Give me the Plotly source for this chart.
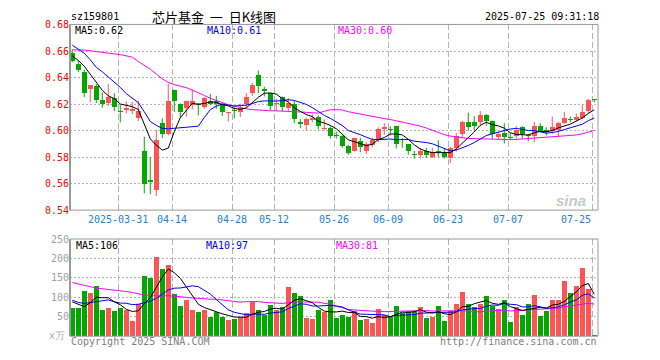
import plotly.graph_objects as go
import numpy as np
import pandas as pd

# ---------------- data ----------------
opens = [0.6583, 0.6504, 0.6441, 0.6313, 0.6335, 0.6233, 0.6208, 0.6245, 0.6150, 0.6152,
         0.6145, 0.6091, 0.5843, 0.5630, 0.5552, 0.6056, 0.5975, 0.6306, 0.6203, 0.6172,
         0.6189, 0.6203, 0.6176, 0.6220, 0.6225, 0.6203, 0.6130, 0.6152, 0.6140, 0.6203,
         0.6282, 0.6421, 0.6311, 0.6282, 0.6203, 0.6252, 0.6172, 0.6203, 0.6064, 0.6042,
         0.6079, 0.6105, 0.6010, 0.6017, 0.5966, 0.5956, 0.5883, 0.5846, 0.5922, 0.5846,
         0.5890, 0.5932, 0.6012, 0.6010, 0.6032, 0.5902, 0.5895, 0.5824, 0.5817, 0.5848,
         0.5804, 0.5846, 0.5829, 0.5792, 0.5870, 0.5975, 0.6066, 0.6066, 0.6061, 0.6115,
         0.6074, 0.5951, 0.5983, 0.5949, 0.5958, 0.6025, 0.5963, 0.5956, 0.6032, 0.6007,
         0.6000, 0.6007, 0.6056, 0.6086, 0.6081, 0.6091, 0.6147, 0.6233]
highs = [0.6612, 0.6527, 0.6458, 0.6343, 0.6350, 0.6287, 0.6350, 0.6282, 0.6196, 0.6220,
         0.6218, 0.6225, 0.5953, 0.5800, 0.6005, 0.6093, 0.6355, 0.6310, 0.6205, 0.6225,
         0.6311, 0.6208, 0.6252, 0.6277, 0.6262, 0.6205, 0.6140, 0.6184, 0.6203, 0.6282,
         0.6360, 0.6453, 0.6331, 0.6284, 0.6238, 0.6257, 0.6245, 0.6225, 0.6086, 0.6098,
         0.6123, 0.6115, 0.6086, 0.6032, 0.5993, 0.5963, 0.5890, 0.5946, 0.5946, 0.5914,
         0.5946, 0.6025, 0.6056, 0.6032, 0.6037, 0.5944, 0.5897, 0.5846, 0.5870, 0.5870,
         0.5870, 0.5927, 0.5865, 0.5878, 0.5980, 0.6074, 0.6135, 0.6110, 0.6147, 0.6125,
         0.6076, 0.5988, 0.6056, 0.5983, 0.6032, 0.6032, 0.5975, 0.6066, 0.6056, 0.6025,
         0.6105, 0.6066, 0.6140, 0.6105, 0.6130, 0.6196, 0.6238, 0.6235]
lows = [0.6515, 0.6441, 0.6252, 0.6213, 0.6208, 0.6172, 0.6184, 0.6147, 0.6061, 0.6130,
        0.6123, 0.6071, 0.5527, 0.5520, 0.5506, 0.5944, 0.5963, 0.6140, 0.6098, 0.6105,
        0.6159, 0.6115, 0.6164, 0.6191, 0.6164, 0.6110, 0.6069, 0.6091, 0.6103, 0.6172,
        0.6262, 0.6282, 0.6257, 0.6152, 0.6147, 0.6147, 0.6147, 0.6056, 0.6017, 0.6000,
        0.6061, 0.6007, 0.6000, 0.5939, 0.5939, 0.5870, 0.5817, 0.5841, 0.5836, 0.5824,
        0.5873, 0.5914, 0.5968, 0.5963, 0.5865, 0.5870, 0.5817, 0.5787, 0.5787, 0.5792,
        0.5792, 0.5800, 0.5787, 0.5755, 0.5841, 0.5946, 0.6000, 0.6000, 0.6037, 0.6037,
        0.5939, 0.5934, 0.5902, 0.5927, 0.5939, 0.5939, 0.5919, 0.5914, 0.5988, 0.5963,
        0.5975, 0.5951, 0.6049, 0.6061, 0.6066, 0.6086, 0.6130, 0.6213]
closes = [0.6522, 0.6458, 0.6287, 0.6343, 0.6228, 0.6203, 0.6252, 0.6176, 0.6143, 0.6169,
          0.6162, 0.6145, 0.5600, 0.5610, 0.5931, 0.5975, 0.6220, 0.6220, 0.6140, 0.6220,
          0.6225, 0.6189, 0.6245, 0.6203, 0.6203, 0.6140, 0.6140, 0.6147, 0.6172, 0.6252,
          0.6343, 0.6338, 0.6301, 0.6184, 0.6208, 0.6176, 0.6208, 0.6086, 0.6047, 0.6086,
          0.6098, 0.6037, 0.6017, 0.5956, 0.5961, 0.5883, 0.5834, 0.5946, 0.5873, 0.5895,
          0.5932, 0.6012, 0.6025, 0.6002, 0.5902, 0.5895, 0.5846, 0.5817, 0.5846, 0.5817,
          0.5841, 0.5841, 0.5804, 0.5865, 0.5958, 0.6061, 0.6025, 0.6037, 0.6115, 0.6074,
          0.5975, 0.5975, 0.5951, 0.5944, 0.6007, 0.5975, 0.5956, 0.6032, 0.6000, 0.5988,
          0.6025, 0.6056, 0.6091, 0.6081, 0.6105, 0.6140, 0.6228, 0.6228]
volumes = [73.7, 73.7, 115.9, 110.9, 128.3, 66.2, 73.7, 63.7, 73.7, 68.7,
           38.9, 82.0, 155.6, 149.0, 202.8, 173.0, 183.0, 109.3, 78.6, 94.4,
           68.7, 61.3, 66.2, 49.7, 61.3, 49.7, 41.4, 44.7, 48.8, 58.8,
           86.9, 68.7, 54.6, 81.1, 68.7, 74.5, 125.8, 110.9, 103.5, 47.2,
           43.9, 66.2, 62.1, 93.5, 47.0, 54.0, 49.0, 64.0, 41.0, 44.0,
           34.0, 69.0, 54.0, 49.0, 79.0, 59.0, 64.0, 64.0, 76.0, 47.0,
           49.0, 79.0, 39.0, 64.0, 84.0, 113.0, 84.0, 74.0, 84.0, 103.0,
           79.0, 70.0, 94.0, 36.0, 76.0, 55.0, 84.0, 106.0, 51.0, 66.0,
           94.0, 94.0, 143.0, 111.0, 128.0, 175.0, 121.0, 4.0]

# moving-average values before enough in-window history exists
ma5_head = [0.6564, 0.6529, 0.6485, 0.6426]
ma10_head = [0.6644, 0.6615, 0.6583, 0.6534, 0.6477, 0.6443, 0.6404, 0.6370, 0.6326]
ma30_head = [0.6609, 0.6609, 0.6607, 0.6602, 0.6595, 0.6589, 0.6584, 0.6578, 0.6573, 0.6565,
             0.6554, 0.6521, 0.6492, 0.6463, 0.6426, 0.6390, 0.6364, 0.6346, 0.6335, 0.6324,
             0.6305, 0.6287, 0.6265, 0.6243, 0.6225, 0.6210, 0.6195, 0.6184, 0.6173]
vma5_head = [88.6, 82.0, 76.0, 86.0]
vma10_head = [92.7, 87.0, 84.4, 87.0, 90.0, 92.7, 93.5, 88.6, 85.3]
vma30_head = [138, 135, 131, 127.5, 124, 122.5, 121, 119, 117.5, 115,
              112.6, 109, 106, 104.3, 103.5, 103.5, 104.3, 103.5, 102, 100,
              98.5, 97, 96, 95.2, 95.2, 93.5, 90.2, 88.6, 87.7]

tick_index = [8, 17, 27, 34, 44, 53, 63, 73, 87]
tick_labels = ["2025-03-31", "04-14", "04-28", "05-12", "05-26", "06-09", "06-23", "07-07", "07-25"]
price_ticks = [0.54, 0.56, 0.58, 0.60, 0.62, 0.64, 0.66, 0.68]
vol_ticks = [50, 100, 150, 200, 250]

# ---------------- styling ----------------
W, H = 660, 360
RED = "#ff5454"
GREEN = "#00a800"
MONO = "DejaVu Sans Mono"
L, R = 70, 598
MAIN_T, MAIN_B = 20, 211
VOL_T, VOL_B = 240.7, 340.7
DATE_BLUE = "#1a82d9"


def ma(values, n, head):
    s = pd.Series(values, dtype=float).rolling(n).mean().to_numpy()
    s[:n - 1] = head
    return s


o = np.array(opens); c = np.array(closes); hi = np.array(highs); lo = np.array(lows)
idx = np.arange(len(closes))
up = c >= o
colors = [RED if u else GREEN for u in up]

fig = go.Figure()

# wicks
for flag, col in ((True, RED), (False, GREEN)):
    xs, ys = [], []
    for i in idx[up == flag]:
        xs += [i, i, None]
        ys += [lo[i], hi[i], None]
    fig.add_trace(go.Scatter(x=xs, y=ys, mode="lines", line=dict(color=col, width=1),
                             xaxis="x", yaxis="y", hoverinfo="skip"))

# bodies
body_base = np.minimum(o, c)
body_h = np.maximum(np.abs(c - o), 0.0007)
fig.add_trace(go.Bar(x=idx, y=body_h, base=body_base, width=0.8,
                     marker=dict(color=colors, line=dict(width=0)),
                     xaxis="x", yaxis="y", hoverinfo="skip"))

# price MAs
for n, head, col in ((30, ma30_head, "#ff00ff"), (10, ma10_head, "#0000ff"), (5, ma5_head, "#000000")):
    fig.add_trace(go.Scatter(x=idx, y=ma(closes, n, head), mode="lines",
                             line=dict(color=col, width=1), xaxis="x", yaxis="y", hoverinfo="skip"))

# volume bars
fig.add_trace(go.Bar(x=idx, y=volumes, width=0.8, marker=dict(color=colors, line=dict(width=0)),
                     xaxis="x2", yaxis="y2", hoverinfo="skip"))
for n, head, col in ((30, vma30_head, "#ff00ff"), (10, vma10_head, "#0000ff"), (5, vma5_head, "#000000")):
    fig.add_trace(go.Scatter(x=idx, y=ma(volumes, n, head), mode="lines",
                             line=dict(color=col, width=1), xaxis="x2", yaxis="y2", hoverinfo="skip"))

grid_x = [t - 0.33 for t in tick_index]
xr = [-0.38, 87.62]
xdom = [L / W, R / W]

fig.update_layout(
    width=W, height=H, margin=dict(l=0, r=0, t=0, b=0), autosize=False,
    paper_bgcolor="white", plot_bgcolor="white", showlegend=False,
    barmode="overlay", bargap=0, hovermode=False,
    xaxis=dict(domain=xdom, range=xr, tickmode="array", tickvals=grid_x, showticklabels=False,
               ticks="", showgrid=True, gridcolor="#b4b4b4", griddash="6px,3px", gridwidth=1,
               zeroline=False, showline=False, anchor="y"),
    yaxis=dict(domain=[1 - MAIN_B / H, 1 - MAIN_T / H], range=[0.53995, 0.68005],
               tickmode="array", tickvals=price_ticks, ticktext=[f"{v:.2f}" for v in price_ticks],
               tickfont=dict(family=MONO, size=10, color="#ff0000"), ticks="",
               showgrid=True, gridcolor="#b4b4b4", griddash="2px,2px", gridwidth=1,
               zeroline=False, showline=False, anchor="x"),
    xaxis2=dict(domain=xdom, range=xr, tickmode="array", tickvals=grid_x, showticklabels=False,
                ticks="", showgrid=True, gridcolor="#b4b4b4", griddash="6px,3px", gridwidth=1,
                zeroline=False, showline=False, anchor="y2"),
    yaxis2=dict(domain=[1 - VOL_B / H, 1 - VOL_T / H], range=[0, 250.05],
                tickmode="array", tickvals=vol_ticks, ticktext=[str(v) for v in vol_ticks],
                tickfont=dict(family=MONO, size=10, color="#a0a0a0"), ticks="",
                showgrid=True, gridcolor="#b4b4b4", griddash="2px,2px", gridwidth=1,
                zeroline=False, showline=False, anchor="x2"),
)

# frames
for xa, ya in (("x", "y"), ("x2", "y2")):
    fig.add_shape(type="rect", xref=f"{xa} domain", yref=f"{ya} domain", x0=0, x1=1, y0=0, y1=1,
                  line=dict(color="#9a9a9a", width=1), layer="above")
    fig.add_shape(type="line", xref=f"{xa} domain", yref=f"{ya} domain", x0=0, x1=0, y0=0, y1=1,
                  line=dict(color="#9a9a9a", width=2), layer="above")

# date labels under the price panel (last one right-aligned to its grid line)
for k, (gx, lab) in enumerate(zip(grid_x, tick_labels)):
    last = k == len(tick_labels) - 1
    fig.add_annotation(text=lab, x=gx, xref="x", y=1 - 221 / H, yref="paper",
                       xanchor="right" if last else "center", yanchor="middle",
                       showarrow=False, borderpad=0,
                       font=dict(family=MONO, size=10, color=DATE_BLUE))


def txt(s, x, y, color="#000", size=10, anchor="left", family=MONO, **kw):
    fig.add_annotation(text=s, x=x / W, y=1 - y / H, xref="paper", yref="paper",
                       xanchor=anchor, yanchor="middle", showarrow=False,
                       font=dict(family=family, size=size, color=color), borderpad=0, **kw)


txt("sz159801", 70, 12)
txt("芯片基金  一  日K线图", 214, 12, size=13, anchor="center", family="Noto Sans CJK SC")
txt("2025-07-25 09:31:18", 600, 12, anchor="right")
txt("MA5:0.62", 74, 26)
txt("MA10:0.61", 206, 26, color="#0000ff")
txt("MA30:0.60", 337, 26, color="#ff00ff")
txt("MA5:106", 75, 247)
txt("MA10:97", 205, 247, color="#0000ff")
txt("MA30:81", 335, 247, color="#ff00ff")
txt("x万", 66, 340, color="#b0b0b0", anchor="right")
txt("Copyright 2025 SINA.COM", 70, 346, color="#808080")
txt("http://finance.sina.com.cn", 598, 346, color="#808080", anchor="right")
txt("<b><i>sina</i></b>", 571, 201, color="#c8c8c8", size=15, anchor="center", family="Liberation Sans")

fig.write_html(
    "out.html",
    config={"displayModeBar": False, "staticPlot": True},
    default_width="660px",
    default_height="360px",
    post_script=("document.documentElement.style.margin='0';"
                 "document.body.style.margin='0';document.body.style.padding='0';"
                 "document.body.style.overflow='hidden';"),
)
